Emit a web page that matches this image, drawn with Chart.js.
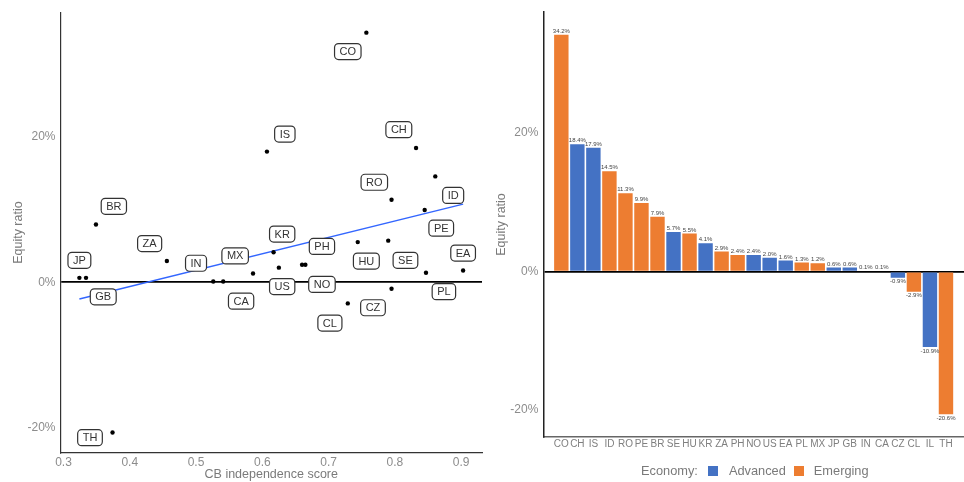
<!DOCTYPE html>
<html lang="en">
<head>
    <meta charset="UTF-8">
    <title>Equity ratio vs CB independence</title>
    <script src="https://cdn.jsdelivr.net/npm/chart.js"></script>
    <style>
        body { margin: 0; background: #fff; font-family: "Liberation Sans", Arial, sans-serif; }
        .panel { position: absolute; top: 0; }
        #legend {
            position: absolute; top: 463px; left: 641px;
            display: flex; align-items: center;
            font-size: 12.8px; color: #7a7a7a; white-space: nowrap;
        }
        #legend .sw { display: inline-block; width: 10px; height: 10px; }
    </style>
</head>
<body>
<div class="panel" style="left:0"><canvas id="scatterChart" width="490" height="482"></canvas></div>
<div class="panel" style="left:490px"><canvas id="barChart" width="474" height="482"></canvas></div>
<div id="legend">
    <span>Economy:</span>
    <span class="sw" style="background:#4472C4;margin-left:10px"></span>
    <span style="margin-left:11px">Advanced</span>
    <span class="sw" style="background:#ED7D31;margin-left:8px"></span>
    <span style="margin-left:10px">Emerging</span>
</div>

<script>
// bar chart data (sorted by equity ratio)
const barCodes = ['CO','CH','IS','ID','RO','PE','BR','SE','HU','KR','ZA','PH','NO','US','EA','PL','MX','JP','GB','IN','CA','CZ','CL','IL','TH'];
const barValues = [34.2, 18.4, 17.9, 14.5, 11.3, 9.9, 7.9, 5.7, 5.5, 4.1, 2.9, 2.4, 2.4, 2.0, 1.6, 1.3, 1.2, 0.6, 0.6, 0.1, 0.1, -0.9, -2.9, -10.9, -20.6];
const economy = ['Emerging','Advanced','Advanced','Emerging','Emerging','Emerging','Emerging','Advanced','Emerging','Advanced',
                 'Emerging','Emerging','Advanced','Advanced','Advanced','Emerging','Emerging','Advanced','Advanced','Emerging',
                 'Advanced','Advanced','Emerging','Advanced','Emerging'];
const economyColors = { Advanced: '#4472C4', Emerging: '#ED7D31' };

// scatter data (IL has no score)
const scatterCodes = ['CO','IS','CH','ID','RO','PE','BR','HU','SE','KR','ZA','PH','NO','US','EA','PL','MX','IN','CA','JP','GB','CZ','CL','TH'];
const cbScore = [0.757, 0.607, 0.832, 0.861, 0.795, 0.845, 0.349, 0.744, 0.790, 0.617, 0.456, 0.660, 0.665, 0.625, 0.903, 0.847, 0.586, 0.526, 0.541, 0.324, 0.334, 0.795, 0.729, 0.374];
// where each label box sits, in axis units
const labelAtX = [0.729, 0.634, 0.806, 0.888, 0.769, 0.870, 0.376, 0.757, 0.816, 0.630, 0.430, 0.690, 0.690, 0.630, 0.903, 0.874, 0.559, 0.500, 0.568, 0.324, 0.360, 0.767, 0.702, 0.340];
const labelAtY = [31.6, 20.3, 20.9, 11.9, 13.7, 7.4, 10.4, 2.9, 3.0, 6.6, 5.3, 4.9, -0.3, -0.6, 4.0, -1.3, 3.6, 2.6, -2.6, 3.0, -2.0, -3.5, -5.6, -21.3];
// fitted line end points
const fitX = [0.324, 0.903];
const fitY = [-2.3, 10.7];

const scatterXTicks = [0.3, 0.4, 0.5, 0.6, 0.7, 0.8, 0.9];
const scatterYTicks = [-20, 0, 20];
const barYTicks = [-20, 0, 20];

const FONT = '"Liberation Sans", Arial, sans-serif';
Chart.defaults.font.family = FONT;
Chart.defaults.animation = false;

const equityFor = code => barValues[barCodes.indexOf(code)];
const zeroLine = ctx => ctx.tick.value === 0 ? '#000' : 'rgba(0,0,0,0)';

// rounded label boxes next to the points
const boxLabels = {
    id: 'boxLabels',
    afterDatasetsDraw(chart) {
        const { ctx, scales: { x, y } } = chart;
        ctx.save();
        ctx.font = '11px ' + FONT;
        ctx.textAlign = 'center';
        ctx.textBaseline = 'middle';
        scatterCodes.forEach((code, i) => {
            const cx = x.getPixelForValue(labelAtX[i]);
            const cy = y.getPixelForValue(labelAtY[i]);
            const w = ctx.measureText(code).width + 10;
            const h = 16;
            ctx.beginPath();
            ctx.roundRect(cx - w / 2, cy - h / 2, w, h, 4);
            ctx.fillStyle = '#fff';
            ctx.fill();
            ctx.lineWidth = 1.2;
            ctx.strokeStyle = '#333';
            ctx.stroke();
            ctx.fillStyle = '#333';
            ctx.fillText(code, cx, cy + 0.5);
        });
        ctx.restore();
    }
};

new Chart(document.getElementById('scatterChart'), {
    data: {
        datasets: [{
            type: 'scatter',
            data: scatterCodes.map((c, i) => ({ x: cbScore[i], y: equityFor(c) })),
            backgroundColor: '#000',
            borderWidth: 0,
            pointRadius: 2.2
        }, {
            type: 'line',
            data: fitX.map((v, i) => ({ x: v, y: fitY[i] })),
            borderColor: '#3366FF',
            borderWidth: 1.5,
            pointRadius: 0
        }]
    },
    options: {
        responsive: false,
        layout: { padding: { top: 9, right: 8, left: 0, bottom: 0 } },
        plugins: { legend: { display: false }, tooltip: { enabled: false } },
        scales: {
            x: {
                type: 'linear', min: 0.2955, max: 0.9315,
                afterBuildTicks: s => { s.ticks = scatterXTicks.map(v => ({ value: v })); },
                afterFit: s => { s.height = 29; },
                ticks: { color: '#8c8c8c', font: { size: 12 }, padding: 2, callback: v => v.toFixed(1) },
                grid: { display: false, drawTicks: false },
                border: { display: true, color: '#333', width: 1.2 },
                title: { display: true, text: 'CB independence score', color: '#7a7a7a', font: { size: 12.5 }, padding: { top: 0, bottom: 0 } }
            },
            y: {
                type: 'linear', min: -23.4, max: 37.0,
                afterBuildTicks: s => { s.ticks = scatterYTicks.map(v => ({ value: v })); },
                afterFit: s => { s.width = 60.5; },
                ticks: { color: '#8c8c8c', font: { size: 12 }, padding: 5, callback: v => v + '%' },
                grid: { color: zeroLine, lineWidth: 1.8, drawTicks: false },
                border: { display: true, color: '#333', width: 1.2 },
                title: { display: true, text: 'Equity ratio', color: '#7a7a7a', font: { size: 12.5 }, padding: { top: 11, bottom: 0 } }
            }
        }
    },
    plugins: [boxLabels]
});

// small value labels above / below the bars
const barValueLabels = {
    id: 'barValueLabels',
    afterDatasetsDraw(chart) {
        const { ctx } = chart;
        const meta = chart.getDatasetMeta(0);
        ctx.save();
        ctx.font = '6px ' + FONT;
        ctx.fillStyle = '#444';
        ctx.textAlign = 'center';
        meta.data.forEach((bar, i) => {
            const v = barValues[i];
            const txt = v.toFixed(1) + '%';
            if (v >= 0) {
                ctx.textBaseline = 'bottom';
                ctx.fillText(txt, bar.x, bar.y - 0.5);
            } else {
                ctx.textBaseline = 'top';
                ctx.fillText(txt, bar.x, bar.y + 1);
            }
        });
        ctx.restore();
    }
};

new Chart(document.getElementById('barChart'), {
    type: 'bar',
    data: {
        datasets: [{
            data: barValues.map((v, i) => ({ x: i, y: v })),
            backgroundColor: economy.map(e => economyColors[e]),
            borderWidth: 0,
            categoryPercentage: 1,
            barPercentage: 0.9
        }]
    },
    options: {
        responsive: false,
        layout: { padding: { top: 10, right: 0, left: 0, bottom: 0 } },
        plugins: { legend: { display: false }, tooltip: { enabled: false } },
        scales: {
            x: {
                type: 'linear', min: -0.6, max: barCodes.length - 0.4,
                afterBuildTicks: s => { s.ticks = barCodes.map((c, i) => ({ value: i })); },
                afterFit: s => { s.height = 45.3; },
                ticks: { color: '#7f7f7f', font: { size: 10 }, padding: 2, autoSkip: false, maxRotation: 0, minRotation: 0,
                         callback: v => barCodes[v] },
                grid: { display: false, drawTicks: false },
                border: { display: true, color: '#666', width: 1.5 }
            },
            y: {
                min: -23.85, max: 37.46,
                afterBuildTicks: s => { s.ticks = barYTicks.map(v => ({ value: v })); },
                afterFit: s => { s.width = 53.3; },
                ticks: { color: '#8c8c8c', font: { size: 12 }, padding: 5, callback: v => v + '%' },
                grid: { color: zeroLine, lineWidth: 1.8, drawTicks: false },
                border: { display: true, color: '#222', width: 1.5 },
                title: { display: true, text: 'Equity ratio', color: '#7a7a7a', font: { size: 12.5 }, padding: { top: 4, bottom: 0 } }
            }
        }
    },
    plugins: [barValueLabels]
});
</script>
</body>
</html>
